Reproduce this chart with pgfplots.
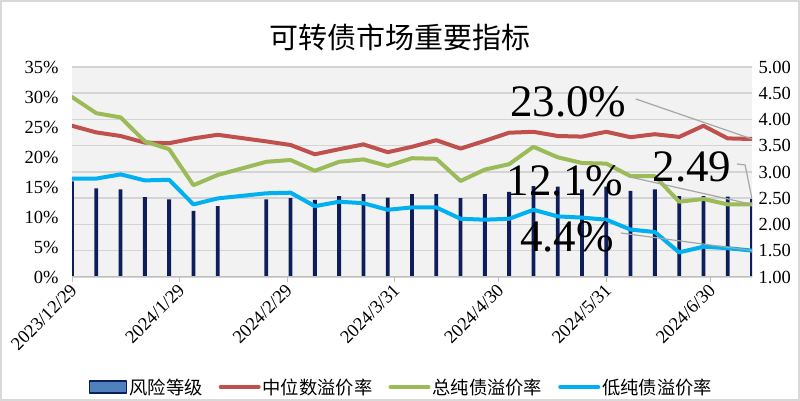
\documentclass[border=0pt]{standalone}
\usepackage{pgfplots}
\usepackage{pgfplotstable}
\pgfplotsset{compat=1.18}
\usepackage{fontspec}
\setmainfont{Liberation Serif}
\newfontfamily\cjk{Noto Sans CJK SC}
\definecolor{cred}{HTML}{C0504D}
\definecolor{cgreen}{HTML}{9BBB59}
\definecolor{ccyan}{HTML}{00B0F0}
\definecolor{cnavy}{HTML}{0E1E5B}
\definecolor{cbarfill}{HTML}{4F81BD}
\definecolor{cgrid}{HTML}{D4D4D4}
\definecolor{cbg}{HTML}{F2F2F2}
\definecolor{clead}{HTML}{A6A6A6}
\definecolor{cframe}{HTML}{D9D9D9}
\definecolor{ctick}{HTML}{BFBFBF}
\pgfplotstableread{
day risk median total low
0 2.82 25.2 30.0 16.4
7 2.69 24.1 27.3 16.4
14 2.67 23.5 26.6 17.1
21 2.52 22.4 22.6 16.1
28 2.48 22.3 21.3 16.2
35 2.26 23.1 15.3 12.1
42 2.35 23.7 17.0 13.1
56 2.48 22.6 19.2 13.95
63 2.50 22.0 19.5 14.05
70 2.47 20.45 17.7 11.8
77 2.54 21.3 19.2 12.55
84 2.58 22.1 19.6 12.3
91 2.51 20.8 18.5 11.2
98 2.58 21.7 19.8 11.6
105 2.58 22.8 19.7 11.6
112 2.50 21.4 16.0 9.7
119 2.58 22.7 17.9 9.55
126 2.62 24.05 18.8 9.7
133 2.73 24.2 21.7 11.2
140 2.72 23.5 19.95 10.1
147 2.67 23.4 19.0 9.9
154 2.72 24.2 18.9 9.55
161 2.64 23.3 16.8 7.9
168 2.67 23.8 16.8 7.5
175 2.54 23.35 12.55 4.1
182 2.54 25.2 13.0 5.05
189 2.53 23.1 12.1 4.8
196 2.49 23.0 12.1 4.4
}\data
\begin{document}
\begin{tikzpicture}
\path[use as bounding box] (0pt,0pt) rectangle (800pt,401pt);
\fill[white] (0pt,0pt) rectangle (800pt,401pt);
\draw[cframe, line width=2pt] (1pt,1pt) rectangle (799pt,400pt);
\node[font=\cjk\fontsize{29}{32}\selectfont] at (400pt,364pt) {可转债市场重要指标};
% bars on the right axis
\begin{axis}[
  at={(72pt,124pt)}, anchor=south west, scale only axis,
  width=680pt, height=210pt,
  xmin=0, xmax=196, ymin=1, ymax=5,
  axis x line=none,
  axis y line*=right,
  y axis line style={draw=none},
  ytick={1,1.5,2,2.5,3,3.5,4,4.5,5},
  major tick length=0pt,
  ymajorgrids,
  grid style={cgrid, line width=1.5pt},
  axis background/.style={fill=cbg},
  /pgf/number format/assume math mode=true,
  yticklabel style={/pgf/number format/fixed, /pgf/number format/fixed zerofill, /pgf/number format/precision=2, anchor=west, xshift=3pt},
  tick label style={font=\fontsize{18.5}{20}\selectfont},
]
\addplot[ybar, bar width=3.8pt, fill=cnavy, draw=none] table[x=day,y=risk]{\data};
\end{axis}
% lines on the left axis
\begin{axis}[
  at={(72pt,124pt)}, anchor=south west, scale only axis,
  width=680pt, height=210pt,
  xmin=0, xmax=196, ymin=0, ymax=35,
  axis x line*=bottom,
  axis y line*=left,
  y axis line style={draw=none},
  x axis line style={ctick, line width=1pt},
  ytick={0,5,10,15,20,25,30,35},
  yticklabel={\pgfmathprintnumber{\tick}\%},
  ytick style={draw=none},
  xtick={0,31,62,93,123,154,184},
  xticklabels={2023/12/29,2024/1/29,2024/2/29,2024/3/31,2024/4/30,2024/5/31,2024/6/30},
  xtick style={ctick, line width=1pt},
  tick align=outside,
  major tick length=5pt,
  xticklabel style={rotate=45, anchor=east, yshift=-5pt, xshift=1pt},
  yticklabel style={xshift=-5pt},
  /pgf/number format/assume math mode=true,
  tick label style={font=\fontsize{18.5}{20}\selectfont},
  legend columns=4,
  legend style={at={(0.4846,-0.524)}, anchor=center, draw=none, fill=none,
    font=\cjk\fontsize{18.3}{20}\selectfont,
    /tikz/every even column/.style={column sep=14pt}},
  every axis plot/.append style={line width=4pt, line join=round, line cap=round},
]
\addlegendimage{legend image code/.code={\draw[fill=cbarfill, draw=cnavy, line width=1.5pt] (0pt,-6pt) rectangle (37pt,6pt);}}
\addlegendentry{风险等级}
\pgfplotsset{legend image code/.code={\draw[#1] (0pt,0pt) -- (38pt,0pt);}}
\addplot[cred, no marks] table[x=day,y=median]{\data};
\addlegendentry{中位数溢价率}
\addplot[cgreen, no marks] table[x=day,y=total]{\data};
\addlegendentry{总纯债溢价率}
\addplot[ccyan, no marks] table[x=day,y=low]{\data};
\addlegendentry{低纯债溢价率}
% data labels with leader lines
\draw[clead, line width=1.2pt] (axis cs:162.5,29.67) -- (axis cs:196,23.0);
\draw[clead, line width=1.2pt] (axis cs:160.8,16.67) -- (axis cs:196,12.1);
\draw[clead, line width=1.2pt] (axis cs:158.2,7.33) -- (axis cs:196,4.4);
\draw[clead, line width=1.2pt] (axis cs:191.7,18.83) -- (axis cs:194,18.67) -- (axis cs:196,13.04);
\node[font=\fontsize{45}{45}\selectfont] at (axis cs:143,29.17) {23.0\%};
\node[font=\fontsize{45}{45}\selectfont] at (axis cs:142.1,16.0) {12.1\%};
\node[font=\fontsize{45}{45}\selectfont] at (axis cs:142.7,6.67) {4.4\%};
\node[font=\fontsize{45}{45}\selectfont] at (axis cs:178.7,18.33) {2.49};
\end{axis}
\end{tikzpicture}
\end{document}
